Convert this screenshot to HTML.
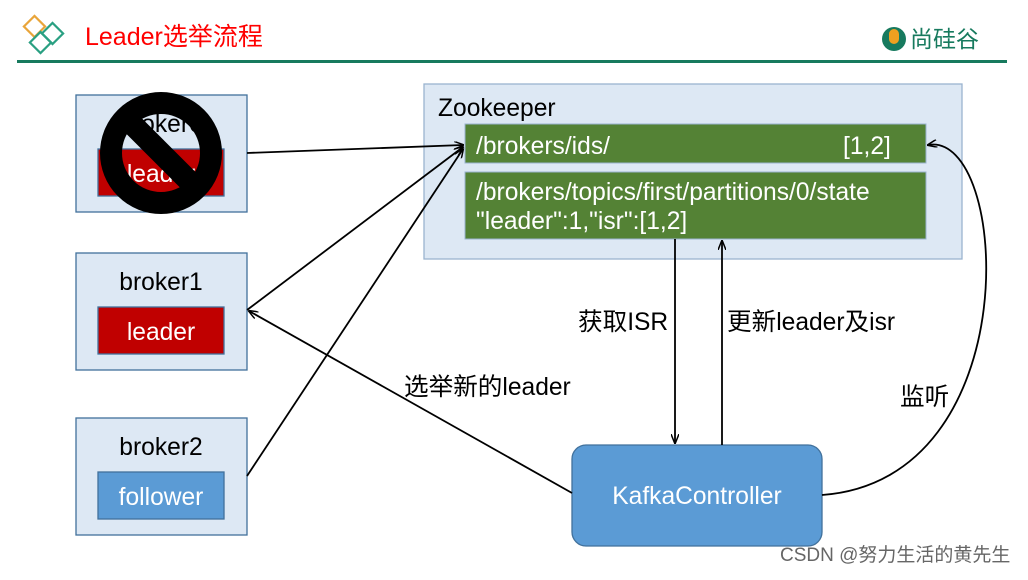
<!DOCTYPE html>
<html><head><meta charset="utf-8"><style>
body{margin:0;width:1028px;height:575px;background:#fff;overflow:hidden;font-family:"Liberation Sans","Noto Sans CJK SC",sans-serif}
</style></head><body>
<svg width="1028" height="575" xmlns="http://www.w3.org/2000/svg" style="font-family:'Liberation Sans','Noto Sans CJK SC',sans-serif">
<defs><marker id="a" markerWidth="10" markerHeight="8" refX="9" refY="4" orient="auto" markerUnits="userSpaceOnUse"><path d="M0,0 L10,4 L0,8" fill="none" stroke="#000" stroke-width="1.5"/></marker></defs>
<g fill="none" stroke-width="2.2">
<rect x="27" y="19" width="15" height="15" transform="rotate(45 34.5 26.5)" stroke="#e9a53a"/>
<rect x="45" y="26" width="15" height="15" transform="rotate(45 52.5 33.5)" stroke="#2aa082"/>
<rect x="33" y="35" width="15" height="15" transform="rotate(45 40.5 42.5)" stroke="#2aa082"/>
</g>
<text x="85" y="45" font-size="25" fill="#f00">Leader选举流程</text>
<rect x="17" y="60" width="990" height="3" fill="#177a5e"/>
<circle cx="894" cy="39" r="12" fill="#177a5e"/><rect x="889" y="29" width="10" height="15" rx="5" fill="#f0a020"/>
<text x="910" y="47" font-size="23" fill="#177a5e">尚硅谷</text>
<g stroke="#41719c" stroke-width="1.3">
<rect x="76" y="95" width="171" height="117" fill="#dde8f4"/>
<rect x="76" y="253" width="171" height="117" fill="#dde8f4"/>
<rect x="76" y="418" width="171" height="117" fill="#dde8f4"/>
<rect x="98" y="149" width="126" height="47" fill="#c00000"/>
<rect x="98" y="307" width="126" height="47" fill="#c00000"/>
<rect x="98" y="472" width="126" height="47" fill="#5b9bd5"/>
</g>
<text x="161" y="132" font-size="24.6" text-anchor="middle">broker0</text>
<text x="161" y="182" font-size="24.6" text-anchor="middle" fill="#fff">leader</text>
<circle cx="161" cy="153" r="50" fill="none" stroke="#000" stroke-width="22"/>
<line x1="125" y1="117" x2="197" y2="189" stroke="#000" stroke-width="22"/>
<text x="161" y="290" font-size="24.6" text-anchor="middle">broker1</text>
<text x="161" y="340" font-size="24.6" text-anchor="middle" fill="#fff">leader</text>
<text x="161" y="455" font-size="24.6" text-anchor="middle">broker2</text>
<text x="161" y="505" font-size="24.6" text-anchor="middle" fill="#fff">follower</text>
<rect x="424" y="84" width="538" height="175" fill="#dde8f4" stroke="#9ab3cf" stroke-width="1.3"/>
<text x="438" y="116" font-size="24.6">Zookeeper</text>
<rect x="465" y="124" width="461" height="39" fill="#548235" stroke="#9ab3cf"/>
<rect x="465" y="172" width="461" height="67" fill="#548235" stroke="#9ab3cf"/>
<text x="476" y="154" font-size="24.6" fill="#fff">/brokers/ids/</text>
<text x="843" y="154" font-size="24.6" fill="#fff">[1,2]</text>
<text x="476" y="200" font-size="24.6" fill="#fff">/brokers/topics/first/partitions/0/state</text>
<text x="476" y="229" font-size="24.6" fill="#fff">"leader":1,"isr":[1,2]</text>
<rect x="572" y="445" width="250" height="101" rx="14" fill="#5b9bd5" stroke="#41719c" stroke-width="1.3"/>
<text x="697" y="504" font-size="24.6" fill="#fff" text-anchor="middle">KafkaController</text>
<g stroke="#000" stroke-width="1.8" fill="none">
<line x1="247" y1="153" x2="463" y2="145" marker-end="url(#a)"/>
<line x1="247" y1="310" x2="463" y2="147" marker-end="url(#a)"/>
<line x1="247" y1="476" x2="463" y2="149" marker-end="url(#a)"/>
<line x1="572" y1="493" x2="249" y2="311" marker-end="url(#a)"/>
<line x1="675" y1="239" x2="675" y2="443" marker-end="url(#a)"/>
<line x1="722" y1="445" x2="722" y2="241" marker-end="url(#a)"/>
<path d="M822,495 C1030,480 1010,130 928,145" marker-end="url(#a)"/>
</g>
<text x="578" y="330" font-size="24.6">获取ISR</text>
<text x="727" y="330" font-size="24.6">更新leader及isr</text>
<text x="404" y="395" font-size="24.6">选举新的leader</text>
<text x="900" y="405" font-size="24.6">监听</text>
<text x="780" y="561" font-size="19" fill="#666">CSDN @努力生活的黄先生</text>
</svg>
</body></html>
